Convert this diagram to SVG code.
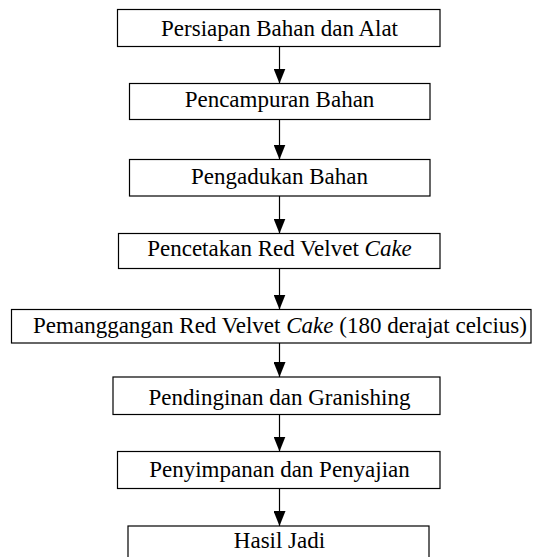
<svg xmlns="http://www.w3.org/2000/svg" width="536" height="557" viewBox="0 0 536 557">
<defs>
<style>
.box{fill:#fff;stroke:#000;stroke-width:1.2}
.lbl{font-family:"Liberation Serif","Times New Roman",serif;font-size:23px;fill:#000;text-anchor:middle}
.con{stroke:#000;stroke-width:1.2;fill:none}
.i{font-style:italic}
</style>
<marker id="ah" markerWidth="15" markerHeight="12" refX="15" refY="6" orient="auto" markerUnits="userSpaceOnUse" viewBox="0 0 15 12">
<path d="M0,0 L15,6 L0,12 Z" fill="#000"/>
</marker>
</defs>
<rect width="536" height="557" fill="#fff"/>
<g id="n1"><rect class="box" x="117.5" y="9.5" width="322.5" height="37"/><text class="lbl" x="279.5" y="36">Persiapan Bahan dan Alat</text></g>
<g id="n2"><rect class="box" x="129.5" y="83.5" width="300.5" height="36"/><text class="lbl" x="279.5" y="107">Pencampuran Bahan</text></g>
<g id="n3"><rect class="box" x="129.5" y="159.5" width="300.5" height="36.5"/><text class="lbl" x="279.5" y="184">Pengadukan Bahan</text></g>
<g id="n4"><rect class="box" x="118.5" y="233.5" width="321.5" height="35"/><text class="lbl" x="279.5" y="256">Pencetakan Red Velvet <tspan class="i">Cake</tspan></text></g>
<g id="n5"><rect class="box" x="11.5" y="309.5" width="519.5" height="33.5"/><text class="lbl" x="280" y="333">Pemanggangan Red Velvet <tspan class="i">Cake</tspan> (180 derajat celcius)</text></g>
<g id="n6"><rect class="box" x="113" y="377" width="327" height="37.5"/><text class="lbl" x="279.5" y="405">Pendinginan dan Granishing</text></g>
<g id="n7"><rect class="box" x="117.5" y="451.5" width="322.5" height="37"/><text class="lbl" x="279.5" y="477">Penyimpanan dan Penyajian</text></g>
<g id="n8"><rect class="box" x="128" y="526" width="301" height="40"/><text class="lbl" x="279.5" y="548">Hasil Jadi</text></g>
<g id="connectors">
<line class="con" x1="279.5" y1="46.5" x2="279.5" y2="83.5" marker-end="url(#ah)"/>
<line class="con" x1="279.5" y1="119.5" x2="279.5" y2="159.5" marker-end="url(#ah)"/>
<line class="con" x1="279.5" y1="196" x2="279.5" y2="233.5" marker-end="url(#ah)"/>
<line class="con" x1="279.5" y1="268.5" x2="279.5" y2="309.5" marker-end="url(#ah)"/>
<line class="con" x1="279.5" y1="343" x2="279.5" y2="377" marker-end="url(#ah)"/>
<line class="con" x1="279.5" y1="414.5" x2="279.5" y2="451.5" marker-end="url(#ah)"/>
<line class="con" x1="279.5" y1="488.5" x2="279.5" y2="526" marker-end="url(#ah)"/>
</g>
</svg>
